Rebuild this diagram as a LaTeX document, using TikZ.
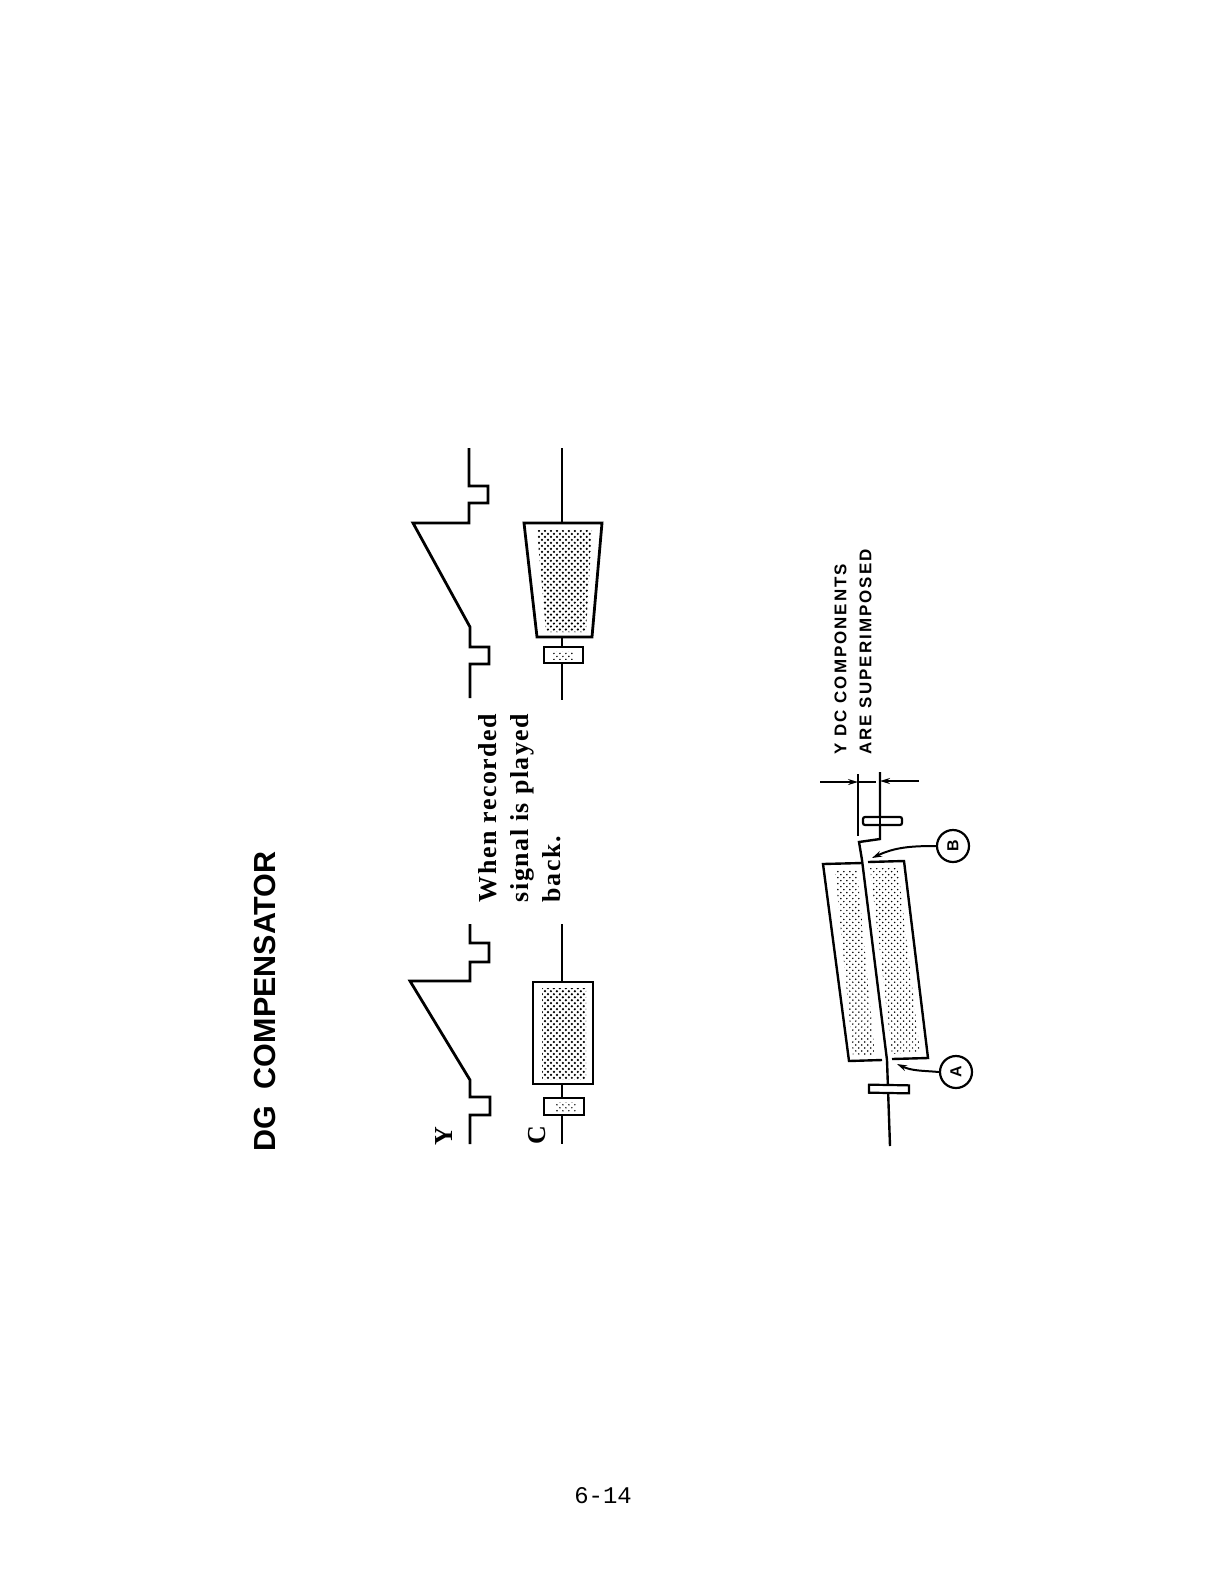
\documentclass[tikz,border=0pt]{standalone}
\usepackage{fontspec}
\setmainfont{Liberation Sans}
\newfontfamily\typerfont{Liberation Serif}[LetterSpace=6]
\newfontfamily\trackfont{Liberation Sans}[LetterSpace=12]
\newfontfamily\markfont{Liberation Serif}
\newfontfamily\pagefont{Liberation Mono}
\usetikzlibrary{patterns,arrows.meta}
\pgfdeclarepatternformonly{stipple}{\pgfqpoint{-0.5pt}{-0.5pt}}{\pgfqpoint{3.5pt}{3.5pt}}{\pgfqpoint{3pt}{3pt}}{
  \pgfpathcircle{\pgfqpoint{0.5pt}{0.5pt}}{0.42pt}
  \pgfpathcircle{\pgfqpoint{2pt}{2pt}}{0.42pt}
  \pgfusepath{fill}
}
\pgfdeclarepatternformonly{stippledark}{\pgfqpoint{-0.5pt}{-0.5pt}}{\pgfqpoint{3.5pt}{3.5pt}}{\pgfqpoint{3pt}{3pt}}{
  \pgfpathcircle{\pgfqpoint{0.5pt}{0.5pt}}{0.62pt}
  \pgfpathcircle{\pgfqpoint{2pt}{2pt}}{0.62pt}
  \pgfusepath{fill}
}

\begin{document}
\begin{tikzpicture}[
  x=0.5bp, y=-0.5bp, >={Stealth[length=5pt,width=3pt]},
  wave/.style={draw, line width=1.4pt, line join=miter},
  wire/.style={draw, line width=1.2pt},
  box/.style={draw, line width=1.4pt, fill=white},
  thinbox/.style={draw, line width=1.2pt},
  smallbox/.style={draw, line width=1.1pt, fill=white, inner sep=0pt},
  dots/.style={pattern=stipple},
  darkdots/.style={pattern=stippledark},
  tag/.style={draw, circle, line width=1.1pt, minimum size=16bp, inner sep=0pt, font=\fontsize{8}{8}\selectfont\bfseries},
  note/.style={rotate=90, align=left, inner sep=0pt}
]
  \useasboundingbox (0,0) rectangle (1224,1584);

  % labels
  \node[note, font=\fontsize{15.3}{16}\selectfont\bfseries] (title) at (265,1001.5) {DG\ \ COMPENSATOR};
  \node[note] (ylabel) at (444,1136) {\markfont\bfseries\fontsize{13}{13}\selectfont Y};
  \node[note] (clabel) at (537,1135) {\markfont\bfseries\fontsize{13}{13}\selectfont C};
  \node[note, font=\typerfont\bfseries\fontsize{13}{16}\selectfont] (played) at (520,808) {When recorded\\signal is played\\back.};
  \node[note, font=\trackfont\bfseries\fontsize{8.5}{12.5}\selectfont] (ydc) at (853,652) {Y DC COMPONENTS\\ARE SUPERIMPOSED};
  \node[inner sep=0pt, font=\pagefont\fontsize{12}{12}\selectfont] (page) at (603,1496) {6-14};

  % upper waveform
  \coordinate (wa) at (469,448);
  \coordinate (wb) at (470,698);
  \draw[wave] (wa) |- (488,486) |- (469,503) |- (413,523) -- (470,627) |- (489,647) |- (470,664) -- (wb);

  % lower waveform
  \coordinate (wc) at (470,924);
  \coordinate (wd) at (470,1144);
  \draw[wave] (wc) |- (489,943) |- (470,962) |- (410,981) -- (470,1080) |- (490,1097) |- (470,1115) -- (wd);

  % upper chroma
  \coordinate (ca) at (562,448);
  \coordinate (cb) at (562,700);
  \path[box] (524,523) -- (602,523) -- (592,637) -- (537,637) -- cycle;
  \fill[darkdots] (537,530) -- (592,530) -- (586,632) -- (546,632) -- cycle;
  \node[smallbox, minimum width=19.5bp, minimum height=8bp] (smalla) at (563.5,655) {};
  \fill[dots] (553,651) rectangle (573,659);
  \draw[wire] (ca) -- (562,523);
  \draw[wire] (562,637) -- (smalla.north -| ca);
  \draw[wire] (smalla.south -| cb) -- (cb);

  % lower chroma
  \coordinate (cc) at (562,924);
  \coordinate (cd) at (562,1144);
  \node[box, minimum width=30bp, minimum height=51bp, inner sep=0pt] (boxc) at (563,1033) {};
  \fill[darkdots] (542,988) rectangle (586,1079);
  \node[smallbox, minimum width=20bp, minimum height=8.5bp] (smallc) at (564,1106.5) {};
  \fill[dots] (555,1102) rectangle (576,1111);
  \draw[wire] (cc) -- (boxc.north -| cc);
  \draw[wire] (boxc.south -| cc) -- (smallc.north -| cc);
  \draw[wire] (smallc.south -| cd) -- (cd);

  % slanted block
  \draw[thinbox] (862,863) -- (823,864) -- (849,1061) -- (882,1060);
  \draw[thinbox] (868,862) -- (904,861) -- (928,1058) -- (892,1059);
  \fill[dots] (835,870) -- (857,870) -- (875,1055) -- (853,1055) -- cycle;
  \fill[dots] (870,868) -- (898,868) -- (920,1052) -- (892,1054) -- cycle;
  \draw[wire] (880,772) coordinate (exb) -- (880,839) -- (859,842) -- (862,860) -- (887,1060) coordinate (mid) -- (890,1146) coordinate (end);
  \draw[wire] (858,774) coordinate (exa) -- (858,836);
  \node[smallbox, rounded corners=1pt, minimum width=19.5bp, minimum height=4bp] (pulseb) at (882.5,821) {};
  \draw[wire] (880,817) -- (880,825);
  \node[smallbox, minimum width=20bp, minimum height=4bp, rotate=-1] (pulsea) at (889,1089) {};

  % dimension arrows
  \coordinate (dl) at (820,782);
  \coordinate (dr) at (919,781);
  \draw[->, line width=1pt] (dl) -- (858,782);
  \draw[line width=1pt] (858,782) -- (876,782);
  \draw[->, line width=1pt] (dr) -- (880,781);

  % callouts
  \node[tag] (tagb) at (953,846) {\rotatebox{90}{B}};
  \node[tag] (taga) at (956,1072) {\rotatebox{90}{A}};
  \coordinate (tipb) at (872,858);
  \coordinate (tipa) at (897,1064);
  \draw[->, line width=1pt] (tagb.west) to[out=180, in=25] (tipb);
  \draw[->, line width=1pt] (taga.west) to[out=175, in=-25] (tipa);
\end{tikzpicture}
\end{document}
